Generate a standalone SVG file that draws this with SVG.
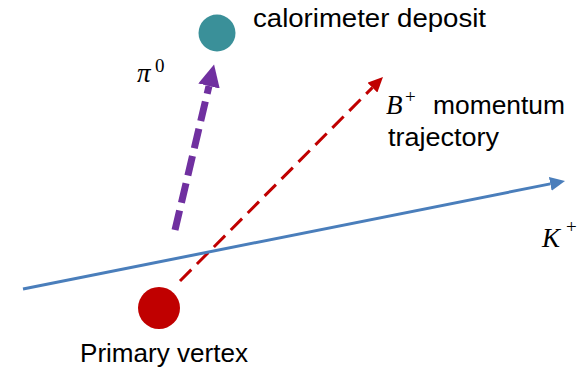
<svg xmlns="http://www.w3.org/2000/svg" width="587" height="370" viewBox="0 0 587 370">
<style>
.lbl{font-family:"Liberation Sans",Arial,sans-serif;font-size:25px;fill:#000}
.math{font-family:"Liberation Serif","DejaVu Serif",serif;font-style:italic;font-size:27px;fill:#000}
.sup{font-family:"Liberation Serif","DejaVu Serif",serif;font-size:19px;fill:#000}
</style>
<defs>
<marker id="hP" markerUnits="userSpaceOnUse" markerWidth="24" markerHeight="22" refX="0" refY="11" orient="auto" viewBox="0 0 24 22"><path d="M0,0 L22,11 L0,22 z" fill="#7030A0"/></marker>
<marker id="hR" markerUnits="userSpaceOnUse" markerWidth="16" markerHeight="14" refX="0" refY="7" orient="auto" viewBox="0 0 16 14"><path d="M0,0 L15,7 L0,14 z" fill="#C00000"/></marker>
<marker id="hB" markerUnits="userSpaceOnUse" markerWidth="16" markerHeight="14" refX="0" refY="7" orient="auto" viewBox="0 0 16 14"><path d="M0,0 L15,7 L0,14 z" fill="#4A7EBB"/></marker>
</defs>
<g id="connectors">
<line x1="175" y1="230" x2="209" y2="86" stroke="#7030A0" stroke-width="7" stroke-dasharray="20 8" marker-end="url(#hP)"/>
<line x1="180" y1="281" x2="372.4" y2="87.6" stroke="#C00000" stroke-width="3" stroke-dasharray="16 8" marker-end="url(#hR)"/>
<line x1="23" y1="289" x2="550.3" y2="183.9" stroke="#4A7EBB" stroke-width="3" marker-end="url(#hB)"/>
</g>
<g id="calorimeter">
<circle cx="217" cy="33" r="18.5" fill="#3A9099"/>
<text class="lbl" x="253" y="27" textLength="233" lengthAdjust="spacingAndGlyphs">calorimeter deposit</text>
</g>
<g id="vertex">
<circle cx="159" cy="308" r="21" fill="#C00000"/>
<text class="lbl" x="80" y="362" textLength="168" lengthAdjust="spacingAndGlyphs">Primary vertex</text>
</g>
<g id="pi0">
<text class="math" x="137" y="82">π</text>
<text class="sup" x="155" y="72">0</text>
</g>
<g id="bplus">
<text class="math" x="386" y="114">B</text>
<text class="sup" x="405" y="103">+</text>
<text class="lbl" x="433" y="114" textLength="132" lengthAdjust="spacingAndGlyphs">momentum</text>
<text class="lbl" x="388" y="146" textLength="111" lengthAdjust="spacingAndGlyphs">trajectory</text>
</g>
<g id="kplus">
<text class="math" x="542" y="247">K</text>
<text class="sup" x="566" y="233">+</text>
</g>
</svg>
